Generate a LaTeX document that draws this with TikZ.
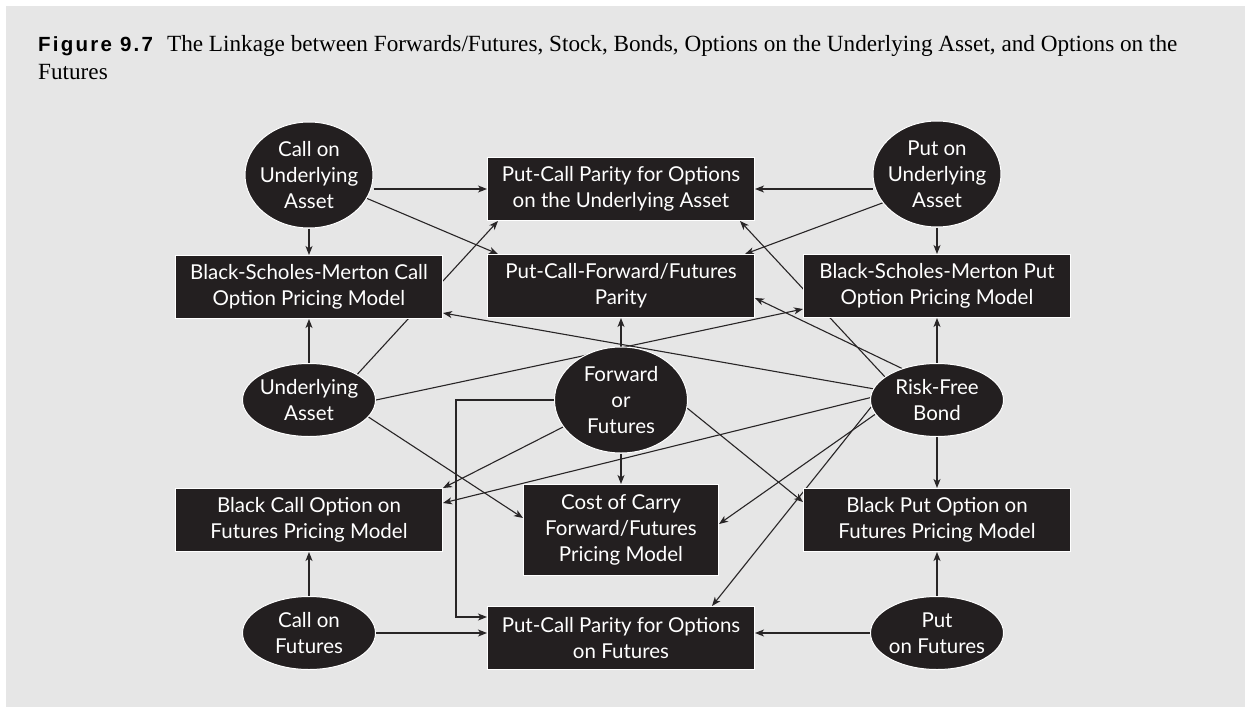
\documentclass[tikz,border=0pt]{standalone}
\usepackage{fontspec}
\setmainfont{Liberation Serif}
\newfontfamily\nodefont{Lato}
\newfontfamily\figfont[LetterSpace=11]{Liberation Sans}
\usepackage{tikz}
\usetikzlibrary{shapes,arrows.meta,positioning,backgrounds}
\definecolor{panelgray}{RGB}{230,230,230}
\definecolor{nodeblack}{RGB}{35,31,32}
\definecolor{linkgray}{RGB}{40,37,38}

\begin{document}
\begin{tikzpicture}[x=1pt, y=1pt, node distance=100pt, on grid, >={Stealth[length=9pt,width=7pt,inset=2.5pt]},
    box/.style={rectangle, draw=white, line width=1pt, fill=nodeblack, text=white, font=\nodefont\fontsize{20.5}{26}\selectfont, align=center, inner sep=0pt, minimum width=267pt, minimum height=63pt},
    oval/.style={ellipse, draw=white, line width=1pt, fill=nodeblack, text=white, font=\nodefont\fontsize{20.5}{26}\selectfont, align=center, inner xsep=-8pt, inner ysep=-3pt, minimum width=133pt, minimum height=73pt},
    tall/.style={oval, minimum width=128pt, minimum height=106pt},
    link/.style={->, draw=linkgray, line width=1.1pt}]
    \useasboundingbox (0,0) rectangle (1245,-712);

    \node[anchor=base west, align=left, inner sep=0pt, font=\fontsize{23.2}{28}\selectfont] (title) at (38,-79)
        {{\figfont\fontsize{20.5}{28}\selectfont\bfseries Figure 9.7}\hspace{14pt}The Linkage between Forwards/Futures, Stock, Bonds, Options on the Underlying Asset, and Options on the\\Futures};

    % middle column
    \node[tall, minimum width=133pt] (fwd) at (621,-400) {Forward\\or\\Futures};
    \node[box, above=114pt of fwd] (pcff) {Put-Call-Forward/Futures\\Parity};
    \node[box, above=97pt of pcff] (pcpua) {Put-Call Parity for Options\\on the Underlying Asset};
    \node[box, below=130pt of fwd, minimum width=195pt, minimum height=91pt] (coc) {Cost of Carry\\Forward/Futures\\Pricing Model};
    \node[box, below=108pt of coc] (pcpfut) {Put-Call Parity for Options\\on Futures};

    % left column
    \node[oval, left=312pt of fwd] (ua) {Underlying\\Asset};
    \node[box, above=113pt of ua] (bsmc) {Black-Scholes-Merton Call\\Option Pricing Model};
    \node[tall, above=112pt of bsmc] (callua) {Call on\\Underlying\\Asset};
    \node[box, below=120pt of ua] (blackc) {Black Call Option on\\Futures Pricing Model};
    \node[oval, below=113pt of blackc] (callfut) {Call on\\Futures};

    % right column
    \node[oval, right=316pt of fwd] (rf) {Risk-Free\\Bond};
    \node[box, above=114pt of rf] (bsmp) {Black-Scholes-Merton Put\\Option Pricing Model};
    \node[tall, above=112pt of bsmp] (putua) {Put on\\Underlying\\Asset};
    \node[box, below=120pt of rf] (blackp) {Black Put Option on\\Futures Pricing Model};
    \node[oval, below=113pt of blackp] (putfut) {Put\\on Futures};

    \begin{scope}[on background layer]
        \fill[white] (0,0) rectangle (1245,-712);
        \fill[panelgray] (6,-6) rectangle (1245,-707);

        % options on the underlying asset
        \draw[link] (pcpua.west -| callua.east) -- (pcpua.west);
        \draw[link] (pcpua.east -| putua.west) -- (pcpua.east);
        \draw[link] (callua.-22) -- ([xshift=11pt]pcff.north west);
        \draw[link] (putua.208) -- ([xshift=-10pt]pcff.north east);
        \draw[link] (callua) -- (bsmc);
        \draw[link] (putua) -- (bsmp);

        % underlying asset
        \draw[link] (ua) -- (bsmc);
        \draw[link] (ua.28) -- ([xshift=11pt]pcpua.south west);
        \draw[link] (ua.east) -- ([yshift=9pt]bsmp.south west);
        \draw[link] (ua.-16) -- ([yshift=12pt]coc.west);

        % forward or futures
        \draw[link] (fwd) -- (pcff);
        \draw[link] (fwd) -- (coc);
        \draw[link] (fwd.205) -- (blackc.north east);
        \draw[link] (fwd.-7) -- ([yshift=-14pt]blackp.north west);
        \draw[link] (fwd.west) -- ++(-98,0) |- ([yshift=21pt]pcpfut.west);

        % risk-free bond
        \draw[link] (rf) -- (bsmp);
        \draw[link] (rf) -- (blackp);
        \draw[link] (rf.170) -- ([yshift=6pt]bsmc.south east);
        \draw[link] (rf.156) -- ([xshift=-15pt]pcpua.south east);
        \draw[link] (rf.138) -- ([yshift=-12pt]pcff.east);
        \draw[link] (rf.178) -- ([yshift=17pt]blackc.east);
        \draw[link] (rf.193) -- ([yshift=6pt]coc.east);
        \draw[link] (rf.186) -- ([xshift=-43pt]pcpfut.north east);

        % options on the futures
        \draw[link] (callfut) -- (blackc);
        \draw[link] (putfut) -- (blackp);
        \draw[link] (callfut.east) -- (callfut.east -| pcpfut.west);
        \draw[link] (putfut.west) -- (putfut.west -| pcpfut.east);
    \end{scope}
\end{tikzpicture}
\end{document}
